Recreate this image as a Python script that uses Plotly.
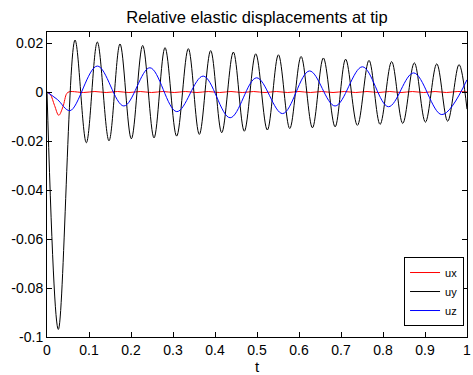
import plotly.graph_objects as go

# ---- data ----
t_ux = [0, 0.008, 0.018, 0.028, 0.038, 0.047, 0.053, 0.060, 0.087, 0.114, 0.141, 0.168, 0.195,
        0.222, 0.249, 0.276, 0.303, 0.330, 0.357, 0.384, 0.411, 0.438, 0.465, 0.492,
        0.519, 0.546, 0.573, 0.600, 0.627, 0.654, 0.681, 0.708, 0.735, 0.762, 0.789,
        0.816, 0.843, 0.870, 0.897, 0.924, 0.951, 0.978, 1.0]
ux = [0, -0.0010, -0.0055, -0.0095, -0.0060, -0.0006, 0.0001, 0.0002, -0.0002, 0.0002, -0.0002,
      0.0002, -0.0002, 0.0002, -0.0002, 0.0002, -0.0002, 0.0002, -0.0002, 0.0002,
      -0.0002, 0.0002, -0.0002, 0.0002, -0.0002, 0.0002, -0.0002, 0.0002, -0.0002,
      0.0002, -0.0002, 0.0002, -0.0002, 0.0002, -0.0002, 0.0002, -0.0002, 0.0002,
      -0.0002, 0.0002, -0.0002, 0.0002, 0.0]

t_uy = [0, 0.027, 0.0667, 0.0937, 0.1198, 0.1476, 0.1738, 0.2008, 0.2278, 0.2548,
        0.281, 0.3087, 0.3365, 0.3627, 0.3897, 0.416, 0.4437, 0.4698, 0.497, 0.5246,
        0.551, 0.578, 0.605, 0.632, 0.658, 0.686, 0.711, 0.739, 0.7667, 0.793,
        0.8206, 0.847, 0.8746, 0.901, 0.928, 0.954, 0.981, 1.0]
uy = [0, -0.0969, 0.0212, -0.0207, 0.0204, -0.0199, 0.0196, -0.0191, 0.0190, -0.0187,
      0.0181, -0.0180, 0.0177, -0.0173, 0.0169, -0.0166, 0.0163, -0.0160, 0.0156, -0.0155,
      0.0152, -0.0149, 0.0145, -0.0146, 0.0139, -0.0142, 0.0134, -0.0136, 0.0129, -0.0132,
      0.0124, -0.0128, 0.0119, -0.0123, 0.0115, -0.0119, 0.0112, -0.0070]

t_uz = [0, 0.025, 0.055, 0.1198, 0.183, 0.245, 0.309, 0.372, 0.436, 0.499, 0.561,
        0.625, 0.686, 0.751, 0.813, 0.873, 0.94, 1.0]
uz = [0, -0.0031, -0.0076, 0.0106, -0.0057, 0.0099, -0.0080, 0.0065, -0.0105, 0.0058,
      -0.0088, 0.0086, -0.0057, 0.0103, -0.0060, 0.0078, -0.0092, 0.0050]

x_ticks = [0, 0.1, 0.2, 0.3, 0.4, 0.5, 0.6, 0.7, 0.8, 0.9, 1]
x_tick_labels = ["0", "0.1", "0.2", "0.3", "0.4", "0.5", "0.6", "0.7", "0.8", "0.9", "1"]
y_ticks = [0.02, 0, -0.02, -0.04, -0.06, -0.08, -0.1]
y_tick_labels = ["0.02", "0", "-0.02", "-0.04", "-0.06", "-0.08", "-0.1"]

FONT = "Liberation Sans, Arial, sans-serif"

fig = go.Figure()
fig.add_trace(go.Scatter(x=t_ux, y=ux, name="ux", mode="lines",
                         line=dict(color="#ff0000", width=1, shape="spline", smoothing=1)))
fig.add_trace(go.Scatter(x=t_uy, y=uy, name="uy", mode="lines",
                         line=dict(color="#000000", width=1, shape="spline", smoothing=1)))
fig.add_trace(go.Scatter(x=t_uz, y=uz, name="uz", mode="lines",
                         line=dict(color="#0000ff", width=1, shape="spline", smoothing=1)))

axis_common = dict(showgrid=False, zeroline=False, showline=True, linecolor="black",
                   linewidth=1, mirror="ticks", ticks="inside", ticklen=5,
                   tickcolor="black", tickwidth=1, automargin=False,
                   tickfont=dict(family=FONT, size=14, color="black"))

fig.update_layout(
    width=473, height=375,
    margin=dict(l=47, r=6, t=32, b=38),
    paper_bgcolor="white", plot_bgcolor="white",
    title=dict(text="Relative elastic displacements at tip", x=0.5433, xanchor="center",
               y=0.955, yanchor="middle",
               font=dict(family=FONT, size=16.5, color="black")),
    xaxis=dict(range=[0, 1], tickvals=x_ticks, ticktext=x_tick_labels,
               title=dict(text="t", font=dict(family=FONT, size=15, color="black"), standoff=8),
               **axis_common),
    yaxis=dict(range=[-0.1, 0.0245], tickvals=y_ticks, ticktext=y_tick_labels,
               **axis_common),
    showlegend=True,
    legend=dict(x=0.993, y=0.036, xanchor="right", yanchor="bottom",
                bgcolor="white", bordercolor="black", borderwidth=1,
                font=dict(family=FONT, size=11, color="black"),
                itemwidth=30, tracegroupgap=0),
)

fig.write_html("out.html",
               config={"displayModeBar": False},
               post_script="document.body.style.margin='0px';document.body.style.overflow='hidden';")
